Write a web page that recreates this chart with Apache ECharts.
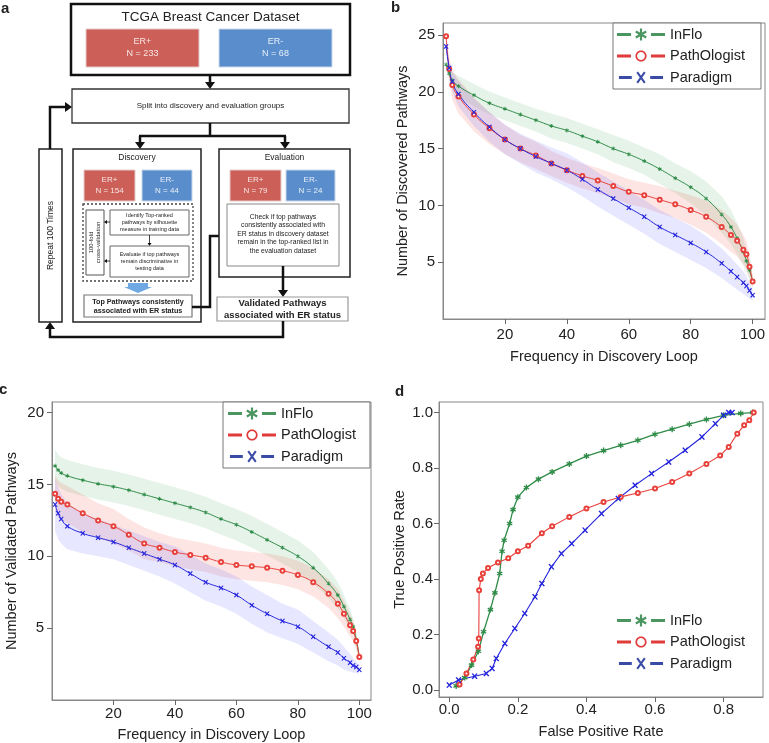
<!DOCTYPE html>
<html>
<head>
<meta charset="utf-8">
<script src="https://cdn.jsdelivr.net/npm/echarts@6/dist/echarts.min.js"></script>
<style>
html, body { margin: 0; padding: 0; background: #fff; }
#main { width: 769px; height: 743px; }
</style>
</head>
<body>
<div id="main"></div>
<script>
var freqX = [1, 2, 3, 5, 10, 15, 20, 25, 30, 35, 40, 45, 50, 55, 60, 65, 70, 75, 80, 85, 90, 93, 95, 97, 98, 99, 100];

// panel b: number of discovered pathways (mean and band half width)
var inFloB = [22.4, 21.6, 21.0, 20.5, 19.7, 19.0, 18.5, 18.0, 17.5, 17.0, 16.6, 16.1, 15.6, 15.0, 14.5, 13.9, 13.2, 12.4, 11.6, 10.6, 9.2, 8.1, 7.1, 5.9, 5.1, 4.3, 3.3];
var pathB = [24.9, 22.0, 20.6, 19.6, 18.0, 16.8, 15.8, 15.0, 14.4, 13.7, 13.1, 12.6, 12.2, 11.7, 11.2, 10.9, 10.5, 10.1, 9.6, 9.0, 8.1, 7.4, 6.9, 6.1, 5.7, 4.6, 3.3];
var paraB = [24.0, 22.1, 20.9, 19.8, 18.2, 16.9, 15.8, 15.0, 14.3, 13.7, 13.1, 12.3, 11.4, 10.6, 9.8, 9.0, 8.1, 7.4, 6.7, 5.9, 4.9, 4.2, 3.7, 3.2, 2.9, 2.5, 2.1];
var inFloSdB = [0.3, 0.5, 0.7, 0.9, 1.0, 1.0, 1.0, 1.0, 1.0, 1.1, 1.1, 1.1, 1.1, 1.2, 1.2, 1.2, 1.3, 1.3, 1.4, 1.5, 1.6, 1.5, 1.4, 1.2, 1.0, 0.8, 0.5];
var pathSdB = [0.4, 1.0, 1.3, 1.5, 1.5, 1.4, 1.3, 1.2, 1.2, 1.1, 1.1, 1.1, 1.1, 1.1, 1.1, 1.1, 1.2, 1.2, 1.3, 1.4, 1.5, 1.5, 1.4, 1.3, 1.2, 1.0, 0.6];
var paraSdB = [0.3, 0.6, 0.9, 1.1, 1.2, 1.3, 1.3, 1.3, 1.4, 1.4, 1.5, 1.5, 1.5, 1.5, 1.5, 1.5, 1.5, 1.5, 1.5, 1.4, 1.3, 1.2, 1.1, 1.0, 0.9, 0.7, 0.5];

// panel c: number of validated pathways
var inFloC = [16.3, 16.0, 15.8, 15.6, 15.3, 15.05, 14.85, 14.6, 14.3, 14.0, 13.7, 13.4, 13.05, 12.6, 12.2, 11.7, 11.15, 10.6, 10.0, 9.2, 8.1, 7.3, 6.5, 5.6, 5.1, 4.2, 3.0];
var pathC = [14.35, 14.0, 13.8, 13.6, 13.0, 12.5, 12.1, 11.5, 10.9, 10.6, 10.3, 10.1, 9.9, 9.6, 9.4, 9.3, 9.2, 9.0, 8.7, 8.2, 7.4, 6.7, 6.0, 5.2, 4.8, 4.1, 3.0];
var paraC = [13.6, 13.0, 12.6, 12.1, 11.6, 11.3, 11.0, 10.6, 10.2, 9.8, 9.4, 8.8, 8.2, 7.8, 7.3, 6.6, 6.0, 5.5, 5.1, 4.4, 3.7, 3.3, 2.9, 2.6, 2.4, 2.3, 2.1];
var inFloSdC = [1.1, 1.1, 1.1, 1.1, 1.1, 1.1, 1.1, 1.1, 1.1, 1.1, 1.1, 1.1, 1.1, 1.1, 1.1, 1.1, 1.1, 1.1, 1.1, 1.1, 1.0, 0.9, 0.8, 0.7, 0.6, 0.5, 0.3];
var pathSdC = [1.3, 1.3, 1.3, 1.3, 1.3, 1.2, 1.2, 1.1, 1.1, 1.0, 1.0, 1.0, 1.0, 1.0, 1.0, 1.0, 1.0, 1.0, 1.0, 1.0, 1.0, 1.0, 0.9, 0.8, 0.7, 0.6, 0.4];
var paraSdC = [1.8, 1.8, 1.7, 1.6, 1.4, 1.3, 1.2, 1.2, 1.2, 1.2, 1.3, 1.3, 1.3, 1.3, 1.3, 1.3, 1.3, 1.2, 1.2, 1.1, 1.0, 0.9, 0.8, 0.6, 0.5, 0.4, 0.3];

// panel d: ROC curves [false positive rate, true positive rate]
var rocInFlo = [[0.02, 0.015], [0.045, 0.045], [0.065, 0.09], [0.085, 0.14], [0.1, 0.21], [0.12, 0.29], [0.133, 0.35], [0.147, 0.42], [0.154, 0.5], [0.16, 0.54], [0.176, 0.6], [0.186, 0.65], [0.2, 0.695], [0.225, 0.73], [0.26, 0.76], [0.3, 0.786], [0.35, 0.815], [0.4, 0.843], [0.45, 0.863], [0.5, 0.882], [0.55, 0.9], [0.6, 0.922], [0.65, 0.94], [0.7, 0.958], [0.75, 0.975], [0.8, 0.99], [0.85, 0.997], [0.885, 1.0]];
var rocPath = [[0.03, 0.02], [0.05, 0.06], [0.07, 0.11], [0.084, 0.156], [0.086, 0.186], [0.087, 0.36], [0.092, 0.4], [0.098, 0.42], [0.113, 0.44], [0.142, 0.46], [0.172, 0.475], [0.2, 0.5], [0.23, 0.52], [0.27, 0.565], [0.3, 0.59], [0.35, 0.624], [0.4, 0.654], [0.45, 0.678], [0.5, 0.696], [0.55, 0.71], [0.6, 0.726], [0.65, 0.75], [0.7, 0.78], [0.75, 0.815], [0.79, 0.845], [0.815, 0.876], [0.84, 0.924], [0.86, 0.954], [0.875, 0.972], [0.888, 1.0]];
var rocPara = [[0.0, 0.018], [0.027, 0.036], [0.074, 0.05], [0.108, 0.06], [0.125, 0.078], [0.137, 0.114], [0.162, 0.168], [0.191, 0.222], [0.22, 0.276], [0.25, 0.336], [0.27, 0.384], [0.298, 0.444], [0.327, 0.492], [0.357, 0.528], [0.396, 0.576], [0.444, 0.636], [0.493, 0.69], [0.542, 0.738], [0.59, 0.78], [0.64, 0.822], [0.688, 0.864], [0.737, 0.912], [0.776, 0.96], [0.8, 0.99], [0.815, 1.0], [0.825, 1.0]];

// tick labels
var freqTicks = [20, 40, 60, 80, 100];
var discTicks = [5, 10, 15, 20, 25];
var validTicks = [5, 10, 15, 20];
var rateTicksX = [0, 0.2, 0.4, 0.6, 0.8];
var rateTicksY = [0, 0.2, 0.4, 0.6, 0.8, 1.0];

var F = "'Liberation Sans', Arial, Helvetica, sans-serif";
var GREEN = '#2f8c48', RED = '#e8413c', BLUE = '#2424dc';
var LG_GREEN = '#4b9560', LG_RED = '#e03a3a', LG_BLUE = '#3a4ba5';

// ---- little path helpers for symbols / legend icons ----
function poly(pts) {
    return 'M' + pts.map(function (p) { return p[0].toFixed(2) + ' ' + p[1].toFixed(2); }).join('L') + 'Z';
}
function bar(cx, cy, L, w, deg) {
    var t = deg * Math.PI / 180;
    var d = [Math.sin(t), -Math.cos(t)], n = [Math.cos(t), Math.sin(t)];
    return poly([
        [cx + L * d[0] - w * n[0], cy + L * d[1] - w * n[1]],
        [cx + L * d[0] + w * n[0], cy + L * d[1] + w * n[1]],
        [cx - L * d[0] + w * n[0], cy - L * d[1] + w * n[1]],
        [cx - L * d[0] - w * n[0], cy - L * d[1] - w * n[1]]
    ]);
}
function ring(cx, cy, r1, r2) {
    var o = [], i = [], k;
    for (k = 0; k < 24; k++) {
        var a = k / 24 * Math.PI * 2;
        o.push([cx + r1 * Math.cos(a), cy + r1 * Math.sin(a)]);
    }
    for (k = 24; k > 0; k--) {
        var b = k / 24 * Math.PI * 2;
        i.push([cx + r2 * Math.cos(b), cy + r2 * Math.sin(b)]);
    }
    return poly(o) + poly(i);
}
function star(cx, cy, L, w) { return bar(cx, cy, L, w, 0) + bar(cx, cy, L, w, 60) + bar(cx, cy, L, w, -60); }
function cross(cx, cy, L, w) { return bar(cx, cy, L, w, 35) + bar(cx, cy, L, w, -35); }
var dashes = poly([[0, 4.5], [14, 4.5], [14, 7.5], [0, 7.5]]) + poly([[34, 4.5], [48, 4.5], [48, 7.5], [34, 7.5]]);

var symStar = 'path://' + star(6, 6, 6, 1.3);
var symCross = 'path://' + cross(6, 6, 7, 1.2);
var iconInFlo = 'path://' + dashes + star(24, 6, 6, 1.1);
var iconPath = 'path://' + dashes + ring(24, 6, 5.6, 3.9);
var iconPara = 'path://' + dashes + cross(24, 6, 7.2, 1.1);

function legendAt(left, top, bordered, pad) {
    return {
        left: left, top: top, orient: 'vertical',
        itemWidth: 48, itemHeight: 12, itemGap: 6.5,
        padding: pad,
        borderColor: bordered ? '#777' : 'transparent',
        borderWidth: bordered ? 1 : 0,
        backgroundColor: bordered ? '#fff' : 'transparent',
        textStyle: { fontSize: 14.5, color: '#222', fontFamily: F },
        selectedMode: false,
        data: [
            { name: 'InFlo', icon: iconInFlo, itemStyle: { color: LG_GREEN, borderWidth: 0 } },
            { name: 'PathOlogist', icon: iconPath, itemStyle: { color: LG_RED, borderWidth: 0 } },
            { name: 'Paradigm', icon: iconPara, itemStyle: { color: LG_BLUE, borderWidth: 0 } }
        ]
    };
}

function axis(grid, min, max, ticks, name, gap, margin, fmt) {
    return {
        type: 'value', gridIndex: grid, min: min, max: max,
        name: name, nameLocation: 'middle', nameGap: gap,
        nameTextStyle: { fontSize: 14.5, color: '#222', fontFamily: F },
        axisLine: { show: true, onZero: false, lineStyle: { color: '#888' } },
        axisTick: { show: true, customValues: ticks, length: 5, lineStyle: { color: '#666' } },
        axisLabel: { customValues: ticks, margin: margin, fontSize: 15, color: '#222', fontFamily: F, formatter: fmt },
        splitLine: { show: false }
    };
}

// shaded band between mean - sd and mean + sd, drawn as one polygon through the axes
function band(idx, xs, mean, sd, color) {
    return {
        type: 'custom', xAxisIndex: idx, yAxisIndex: idx, silent: true,
        data: xs.map(function (x, i) { return [x, mean[i] - sd[i], mean[i] + sd[i]]; }),
        encode: { x: 0, y: [1, 2] },
        renderItem: function (params, api) {
            if (params.dataIndex !== 0) return;
            var up = [], lo = [];
            for (var i = 0; i < xs.length; i++) {
                up.push(api.coord([xs[i], mean[i] + sd[i]]));
                lo.push(api.coord([xs[i], mean[i] - sd[i]]));
            }
            return {
                type: 'polygon',
                shape: { points: up.concat(lo.reverse()) },
                style: { fill: color }
            };
        }
    };
}

function curve(name, idx, data, color, symbol, size, smooth, lw) {
    return {
        name: name, type: 'line', xAxisIndex: idx, yAxisIndex: idx,
        data: data, smooth: smooth, symbol: symbol, symbolSize: size, showSymbol: true,
        lineStyle: { color: color, width: lw || 1 },
        itemStyle: { color: color, borderColor: color, borderWidth: symbol === 'emptyCircle' ? 1 : 0 },
        silent: true
    };
}

function pairs(xs, ys) { return xs.map(function (x, i) { return [x, ys[i]]; }); }

// ---- panel a: flow chart drawn with graphic elements ----
function rect(x, y, w, h, st) {
    return { type: 'rect', shape: { x: x, y: y, width: w, height: h }, style: Object.assign({ fill: '#fff', stroke: '#222', lineWidth: 1 }, st || {}) };
}
function text(x, y, s, size, st, rot) {
    var el = { type: 'text', x: x, y: y, style: Object.assign({ text: s, font: size + 'px ' + F, fill: '#222', align: 'center', verticalAlign: 'middle', lineHeight: Math.round(size * 1.2) }, st || {}) };
    if (rot) el.rotation = rot;
    return el;
}
function line(pts, lw) {
    return { type: 'polyline', shape: { points: pts }, style: { stroke: '#111', lineWidth: lw || 2.5, fill: null } };
}
function arrow(pts, lw, hl, hw) {
    lw = lw || 2.5; hl = hl || 7; hw = hw || 5;
    var n = pts.length, p = pts[n - 1], q = pts[n - 2];
    var dx = p[0] - q[0], dy = p[1] - q[1], L = Math.sqrt(dx * dx + dy * dy);
    dx /= L; dy /= L;
    var bx = p[0] - dx * hl, by = p[1] - dy * hl;
    var body = pts.slice(0, n - 1).concat([[bx, by]]);
    return [line(body, lw), { type: 'polygon', shape: { points: [[p[0], p[1]], [bx - dy * hw, by + dx * hw], [bx + dy * hw, by - dx * hw]] }, style: { fill: '#111' } }];
}

var ERRED = '#cc5f58', ERBLUE = '#5a8dcb';
var flow = [];
flow.push(rect(71, 4, 279, 71, { lineWidth: 2.5, stroke: '#111' }));
flow.push(text(210.5, 17, 'TCGA Breast Cancer Dataset', 13.5));
flow.push(rect(86, 29, 113, 38, { fill: ERRED, stroke: '#e4cbc9' }));
flow.push(text(142.5, 48, 'ER+\nN = 233', 9, { fill: '#f7e6e4', lineHeight: 12 }));
flow.push(rect(219, 29, 113, 38, { fill: ERBLUE, stroke: '#c9d8ea' }));
flow.push(text(275.5, 48, 'ER-\nN = 68', 9, { fill: '#e8f0f9', lineHeight: 12 }));
flow = flow.concat(arrow([[210, 75], [210, 89]]));
flow.push(rect(72, 89, 277, 34, { lineWidth: 1.3, stroke: '#333' }));
flow.push(text(210.5, 106, 'Split into discovery and evaluation groups', 8));
flow.push(line([[210, 123], [210, 136]]));
flow.push(line([[139, 136], [286, 136]]));
flow = flow.concat(arrow([[140, 136], [140, 149]]));
flow = flow.concat(arrow([[285, 136], [285, 149]]));
// discovery
flow.push(rect(73, 149, 128, 173, { lineWidth: 1.5, stroke: '#222' }));
flow.push(text(137, 158, 'Discovery', 8.5));
flow.push(rect(84, 170, 51, 31, { fill: ERRED, stroke: '#e4cbc9' }));
flow.push(text(109.5, 185.5, 'ER+\nN = 154', 8, { fill: '#f7e6e4', lineHeight: 11 }));
flow.push(rect(142, 170, 50, 31, { fill: ERBLUE, stroke: '#c9d8ea' }));
flow.push(text(167, 185.5, 'ER-\nN = 44', 8, { fill: '#e8f0f9', lineHeight: 11 }));
flow.push(rect(83, 204, 110, 77, { fill: 'transparent', stroke: '#444', lineWidth: 1.3, lineDash: [2, 2] }));
flow.push(rect(86, 210, 18, 65, { stroke: '#555' }));
flow.push(text(95, 242.5, '100-fold\ncross-validation', 6, { lineHeight: 7 }, Math.PI / 2));
flow.push(rect(110, 210, 79, 25, { stroke: '#666' }));
flow.push(text(149.5, 222.5, 'Identify Top-ranked\npathways by silhouette\nmeasure in training data', 5.5, { lineHeight: 7 }));
flow = flow.concat(arrow([[149.5, 235], [149.5, 246]], 0.8, 3, 2));
flow.push(rect(110, 246, 79, 31, { stroke: '#666' }));
flow.push(text(149.5, 261.5, 'Evaluate if top pathways\nremain discriminative in\ntesting data', 5.5, { lineHeight: 7 }));
flow = flow.concat(arrow([[110, 222], [104, 222]], 0.8, 3, 2));
flow = flow.concat(arrow([[110, 261], [104, 261]], 0.8, 3, 2));
flow.push({ type: 'polygon', shape: { points: [[128, 283], [148, 283], [148, 287], [152, 287], [138, 293], [124, 287], [128, 287]] }, style: { fill: '#6fa8e3' } });
flow.push(rect(84, 295, 108, 22, { stroke: '#777', lineWidth: 1.2 }));
flow.push(text(138, 306.5, 'Top Pathways consistently\nassociated with ER status', 7.2, { font: 'bold 7.2px ' + F, lineHeight: 9 }));
flow = flow.concat(arrow([[192, 307], [210, 307], [210, 236], [227, 236]]));
// evaluation
flow.push(rect(219, 149, 131, 128, { lineWidth: 1.5, stroke: '#222' }));
flow.push(text(284.5, 158, 'Evaluation', 8.5));
flow.push(rect(230, 170, 51, 31, { fill: ERRED, stroke: '#e4cbc9' }));
flow.push(text(255.5, 185.5, 'ER+\nN = 79', 8, { fill: '#f7e6e4', lineHeight: 11 }));
flow.push(rect(286, 170, 49, 31, { fill: ERBLUE, stroke: '#c9d8ea' }));
flow.push(text(310.5, 185.5, 'ER-\nN = 24', 8, { fill: '#e8f0f9', lineHeight: 11 }));
flow.push(rect(227, 204, 112, 62, { stroke: '#888' }));
flow.push(text(283, 234, 'Check if top pathways\nconsistently associated with\nER status in discovery dataset\nremain in the top-ranked list in\nthe evaluation dataset', 6.8, { lineHeight: 8.4 }));
flow = flow.concat(arrow([[283, 266], [283, 297]]));
flow.push(rect(217, 297, 131, 24, { stroke: '#999', lineWidth: 1.2 }));
flow.push(text(282.5, 309.5, 'Validated Pathways\nassociated with ER status', 9.5, { font: 'bold 9.5px ' + F, lineHeight: 11.5 }));
flow = flow.concat(arrow([[283, 321], [283, 337], [50, 337], [50, 322]]));
// repeat loop
flow.push(rect(39, 149, 23, 173, { lineWidth: 1.5, stroke: '#222' }));
flow.push(text(50.5, 235.5, 'Repeat 100 Times', 8.5, null, Math.PI / 2));
flow = flow.concat(arrow([[50, 149], [50, 107], [72, 107]]));

// panel letters
flow.push(text(1, 9, 'a', 15, { font: 'bold 15px ' + F, align: 'left' }));
flow.push(text(391, 8, 'b', 15, { font: 'bold 15px ' + F, align: 'left' }));
flow.push(text(-1, 390, 'c', 15, { font: 'bold 15px ' + F, align: 'left' }));
flow.push(text(395, 392, 'd', 15, { font: 'bold 15px ' + F, align: 'left' }));

var fmtInt = function (v) { return String(v); };
var fmtRate = function (v) { return v.toFixed(1); };

var BAND_G = 'rgba(70,170,100,0.14)', BAND_R = 'rgba(245,100,90,0.17)', BAND_B = 'rgba(110,110,255,0.17)';
var series = [
    band(0, freqX, inFloB, inFloSdB, BAND_G),
    band(0, freqX, pathB, pathSdB, BAND_R),
    band(0, freqX, paraB, paraSdB, BAND_B),
    band(1, freqX, inFloC, inFloSdC, BAND_G),
    band(1, freqX, pathC, pathSdC, BAND_R),
    band(1, freqX, paraC, paraSdC, BAND_B),
    curve('InFlo', 0, pairs(freqX, inFloB), GREEN, symStar, 4, true),
    curve('PathOlogist', 0, pairs(freqX, pathB), RED, 'emptyCircle', 4, true),
    curve('Paradigm', 0, pairs(freqX, paraB), BLUE, symCross, 5, true),
    curve('InFlo', 1, pairs(freqX, inFloC), GREEN, symStar, 4, true),
    curve('PathOlogist', 1, pairs(freqX, pathC), RED, 'emptyCircle', 4, true),
    curve('Paradigm', 1, pairs(freqX, paraC), BLUE, symCross, 5, true),
    curve('InFlo', 2, rocInFlo, GREEN, symStar, 6, false, 1.3),
    curve('PathOlogist', 2, rocPath, RED, 'emptyCircle', 4, false, 1.1),
    curve('Paradigm', 2, rocPara, BLUE, symCross, 6, false, 1.1)
];

var myChart = echarts.init(document.getElementById('main'), null, { renderer: 'canvas' });
myChart.setOption({
    animation: false,
    backgroundColor: '#fff',
    grid: [
        { left: 443, top: 23, width: 322, height: 296, show: true, borderColor: '#888', borderWidth: 1 },
        { left: 52, top: 402, width: 319, height: 298, show: true, borderColor: '#888', borderWidth: 1 },
        { left: 439, top: 402, width: 324, height: 295, show: true, borderColor: '#888', borderWidth: 1 }
    ],
    xAxis: [
        axis(0, 0, 104, freqTicks, 'Frequency in Discovery Loop', 30, 8, fmtInt),
        axis(1, 0, 103.8, freqTicks, 'Frequency in Discovery Loop', 27, 6, fmtInt),
        axis(2, -0.03, 0.915, rateTicksX, 'False Positive Rate', 27, 5, fmtRate)
    ],
    yAxis: [
        axis(0, 0, 26.06, discTicks, 'Number of Discovered Pathways', 33, 8, fmtInt),
        axis(1, 0, 20.74, validTicks, 'Number of Validated Pathways', 33, 8, fmtInt),
        axis(2, -0.025, 1.038, rateTicksY, 'True Positive Rate', 32, 6, fmtRate)
    ],
    legend: [
        legendAt(613, 23, true, [4, 16, 4, 4]),
        legendAt(223, 402, true, [4, 14, 4, 5]),
        legendAt(613, 613, false, [0, 0, 0, 4])
    ],
    graphic: flow,
    series: series
});
</script>
</body>
</html>
